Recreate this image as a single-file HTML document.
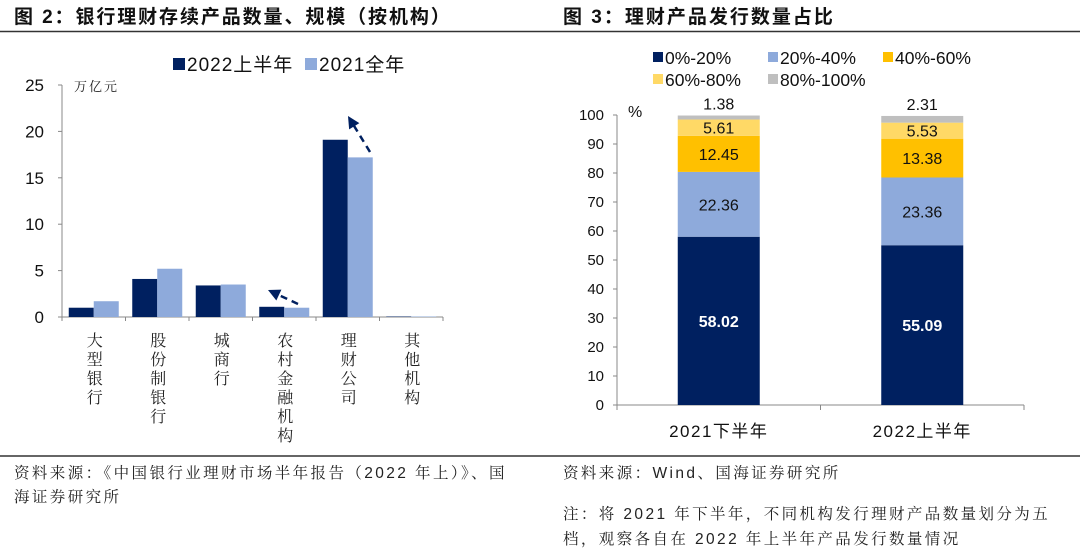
<!DOCTYPE html>
<html><head><meta charset="utf-8"><style>
body{margin:0;width:1080px;height:556px;background:#fff;overflow:hidden;font-family:"Liberation Sans","Noto Sans CJK SC",sans-serif}
svg{position:absolute;left:0;top:0}
</style></head><body>
<svg width="1080" height="556" xmlns="http://www.w3.org/2000/svg" id="root">
<text x="14" y="23" font-size="19" font-weight="bold" letter-spacing="1.9" fill="#111" font-family="Liberation Sans,Noto Sans CJK SC,sans-serif">图 2：银行理财存续产品数量、规模（按机构）</text>
<text x="563" y="23" font-size="19" font-weight="bold" letter-spacing="2" fill="#111" font-family="Liberation Sans,Noto Sans CJK SC,sans-serif">图 3：理财产品发行数量占比</text>
<line x1="0" y1="31.5" x2="1080" y2="31.5" stroke="#333" stroke-width="1.5"/>
<line x1="0" y1="456" x2="1080" y2="456" stroke="#333" stroke-width="1.5"/>
<g font-size="15.5" fill="#222" letter-spacing="2.4" font-family="Liberation Sans,Noto Serif CJK SC,serif">
<text x="14" y="478">资料来源：《中国银行业理财市场半年报告（2022 年上）》、国</text>
<text x="14" y="502">海证券研究所</text>
<text x="563" y="478">资料来源：Wind、国海证券研究所</text>
<text x="563" y="519">注：将 2021 年下半年，不同机构发行理财产品数量划分为五</text>
<text x="563" y="544">档，观察各自在 2022 年上半年产品发行数量情况</text>
</g>
<g id="left"></g>
<g id="right"></g>
</svg>
<script>
const NS="http://www.w3.org/2000/svg";
function mk(p,tag,attrs,txt){const e=document.createElementNS(NS,tag);for(const k in attrs)e.setAttribute(k,attrs[k]);if(txt!==undefined)e.textContent=txt;p.appendChild(e);return e;}

// ---- Left chart data ----
const leftCategories=["大型银行","股份制银行","城商行","农村金融机构","理财公司","其他机构"];
const series2022H1=[1.0,4.1,3.4,1.1,19.1,0.05];
const series2021=[1.7,5.2,3.5,1.0,17.2,0.05];
const leftTicks=[0,5,10,15,20,25];

// ---- Right chart data ----
const rightCategories=["2021下半年","2022上半年"];
const bucketNames=["0%-20%","20%-40%","40%-60%","60%-80%","80%-100%"];
const bucket0to20=[58.02,55.09];
const bucket20to40=[22.36,23.36];
const bucket40to60=[12.45,13.38];
const bucket60to80=[5.61,5.53];
const bucket80to100=[1.38,2.31];
const rightTicks=[0,10,20,30,40,50,60,70,80,90,100];

(function(){
const g=document.getElementById('left');
const x0=62,x1=443,y0=317,ymax=25,yTop=85;
const yS=v=>y0-(v/ymax)*(y0-yTop);
const step=(x1-x0)/leftCategories.length;
let ax=mk(g,'line',{x1:x0,y1:yTop,x2:x0,y2:y0,stroke:'#888'});

leftTicks.forEach(t=>{
 const y=yS(t);
 mk(g,'line',{x1:x0-4,y1:y,x2:x0,y2:y,stroke:'#888'});
 const tx=mk(g,'text',{x:44,y:y+6,'font-size':17,'text-anchor':'end',fill:'#111'},String(t));
 
});
const u=mk(g,'text',{x:74,y:yTop+6,'font-size':13,'letter-spacing':2,fill:'#222','font-family':'Noto Serif CJK SC,serif'},'万亿元');

let xa=mk(g,'line',{x1:x0,y1:y0,x2:x1,y2:y0,stroke:'#888'});

for(let i=0;i<=leftCategories.length;i++){const x=x0+i*step;mk(g,'line',{x1:x,y1:y0,x2:x,y2:y0+4,stroke:'#888'});}
const bw=25;
leftCategories.forEach((c,i)=>{
 const cx=x0+i*step+step/2;
 let b=mk(g,'rect',{x:cx-bw,y:yS(series2022H1[i]),width:bw,height:y0-yS(series2022H1[i]),fill:'#002060'});
 
 b=mk(g,'rect',{x:cx,y:yS(series2021[i]),width:bw,height:y0-yS(series2021[i]),fill:'#8eaadb'});
 
 const t=mk(g,'text',{'font-size':16,fill:'#222','text-anchor':'middle','font-family':'Noto Serif CJK SC,serif'});
 
 [...c].forEach((ch,k)=>mk(t,'tspan',{x:cx+1,y:346+k*19},ch));
});
// legend
let s=mk(g,'rect',{x:173,y:58,width:12,height:12,fill:'#002060'});
s=mk(g,'text',{x:187,y:71,'font-size':19,'letter-spacing':1,fill:'#111'},'2022上半年');
s=mk(g,'rect',{x:305,y:58,width:12,height:12,fill:'#8eaadb'});
s=mk(g,'text',{x:319,y:71,'font-size':19,'letter-spacing':1,fill:'#111'},'2021全年');
// arrows
function arrow(xa,ya,xb,yb,name){
 const ag=mk(g,'g',{});
 const dx=xb-xa,dy=yb-ya,L=Math.hypot(dx,dy),ux=dx/L,uy=dy/L;
 mk(ag,'line',{x1:xa,y1:ya,x2:xb-ux*10,y2:yb-uy*10,stroke:'#002060','stroke-width':2.5,'stroke-dasharray':'7,5'});
 const px=-uy,py=ux;
 mk(ag,'polygon',{points:`${xb},${yb} ${xb-ux*12+px*6},${yb-uy*12+py*6} ${xb-ux*12-px*6},${yb-uy*12-py*6}`,fill:'#002060'});
}
arrow(370,152,348,116,'arrow-wealth-company');
arrow(298,304,268,290,'arrow-rural');
})();

(function(){
const g=document.getElementById('right');
const x0=617,x1=1024,y0=405,yTop=115;
const yS=v=>y0-(v/100)*(y0-yTop);
let ax=mk(g,'line',{x1:x0,y1:yTop,x2:x0,y2:y0,stroke:'#888'});

rightTicks.forEach(t=>{
 const y=yS(t);
 mk(g,'line',{x1:x0-4,y1:y,x2:x0,y2:y,stroke:'#888'});
 const tx=mk(g,'text',{x:604,y:y+5,'font-size':15,'text-anchor':'end',fill:'#111'},String(t));
 
});
let u=mk(g,'text',{x:628,y:yTop+2,'font-size':16,fill:'#111'},'%');
let xa=mk(g,'line',{x1:x0,y1:y0,x2:x1,y2:y0,stroke:'#888'});

const step=(x1-x0)/rightCategories.length;
for(let i=0;i<=rightCategories.length;i++){const x=x0+i*step;mk(g,'line',{x1:x,y1:y0,x2:x,y2:y0+5,stroke:'#888'});}
const series=[bucket0to20,bucket20to40,bucket40to60,bucket60to80,bucket80to100];
const colors=['#002060','#8eaadb','#ffc000','#ffd966','#bfbfbf'];
const bw=82;
rightCategories.forEach((c,i)=>{
 const cx=x0+i*step+step/2;let acc=0;
 series.forEach((sv,k)=>{
  const v=sv[i];const yt=yS(acc+v),yb=yS(acc);
  const r=mk(g,'rect',{x:cx-bw/2,y:yt,width:bw,height:yb-yt,fill:colors[k]});
  
  const ly=k===4?yt-6:(yt+yb)/2+6;
  const t=mk(g,'text',{x:cx,y:ly,'font-size':16,'text-anchor':'middle',fill:k===0?'#fff':'#111','font-weight':k===0?'bold':'normal'},v.toFixed(2));
  
  acc+=v;
 });
 const t=mk(g,'text',{x:cx,y:437,'font-size':17,'letter-spacing':1.5,'text-anchor':'middle',fill:'#111'},c);
 
});
const pos=[[653,58],[768,58],[883,58],[653,80],[768,80]];
bucketNames.forEach((n,k)=>{
 const r=mk(g,'rect',{x:pos[k][0],y:pos[k][1]-6,width:10,height:10,fill:colors[k]});
 
 const t=mk(g,'text',{x:pos[k][0]+12,y:pos[k][1]+6,'font-size':17.5,fill:'#111'},n);
 
});
})();
</script>
</body></html>
